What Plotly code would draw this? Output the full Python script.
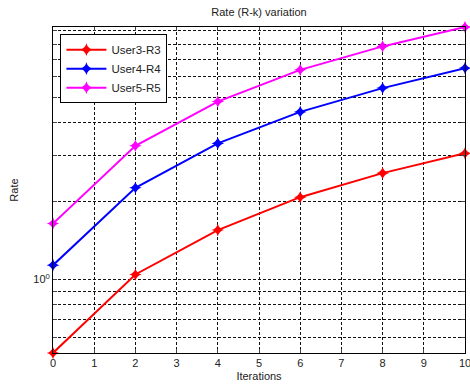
import plotly.graph_objects as go
import math

iterations = [0, 2, 4, 6, 8, 10]
user3_r3 = [0.522, 1.045, 1.547, 2.07, 2.56, 3.05]
user4_r4 = [1.135, 2.25, 3.33, 4.40, 5.43, 6.48]
user5_r5 = [1.64, 3.26, 4.82, 6.38, 7.85, 9.32]
series_names = ["User3-R3", "User4-R4", "User5-R5"]
series_colors = ["#ff0000", "#0000ff", "#ff00ff"]
x_ticks = list(range(0, 11))
y_grid = [0.6, 0.7, 0.8, 0.9, 1, 2, 3, 4, 5, 6, 7, 8, 9]
y_ticktext = ["" if v != 1 else "10<sup>0</sup>" for v in y_grid]

fig = go.Figure()
for name, ys, col in zip(series_names, [user3_r3, user4_r4, user5_r5], series_colors):
    fig.add_trace(go.Scatter(
        x=iterations, y=ys, name=name, mode="lines+markers",
        line=dict(color=col, width=2),
        marker=dict(symbol="star-diamond", size=9, color=col),
        cliponaxis=False,
    ))

ymin = min(user3_r3)
ymax = max(user5_r5)

fig.update_layout(
    width=470, height=387,
    margin=dict(l=53, r=5, t=27, b=34),
    paper_bgcolor="white", plot_bgcolor="white",
    font=dict(family="Liberation Sans, Arial, sans-serif", size=11, color="#222"),
    title=dict(text="Rate (R-k) variation", x=0.551, xanchor="center", y=0.968, yanchor="middle",
               font=dict(size=11, color="#222")),
    showlegend=True,
    legend=dict(x=0.018, y=0.978, xanchor="left", yanchor="top",
                bgcolor="white", bordercolor="black", borderwidth=1,
                font=dict(size=11.5, color="#222"), tracegroupgap=0, itemwidth=40),
    xaxis=dict(range=[0, 10], tickvals=x_ticks, ticks="inside", ticklen=4,
               ticklabeloverflow="allow",
               showgrid=True, gridcolor="#111", griddash="3px,2px", gridwidth=1,
               showline=True, linecolor="black", linewidth=1, mirror="ticks",
               zeroline=False, automargin=False,
               title=dict(text="Iterations", standoff=4, font=dict(size=11))),
    yaxis=dict(type="log", range=[math.log10(ymin), math.log10(ymax)],
               tickvals=y_grid, ticktext=y_ticktext, ticks="inside", ticklen=4,
               showgrid=True, gridcolor="#111", griddash="3px,2px", gridwidth=1,
               showline=True, linecolor="black", linewidth=1, mirror="ticks",
               zeroline=False,
               title=dict(text="Rate", standoff=12, font=dict(size=11))),
)

fig.write_html("out.html", config={"displayModeBar": False},
               post_script="document.body.style.margin='0';document.body.style.padding='0';")
